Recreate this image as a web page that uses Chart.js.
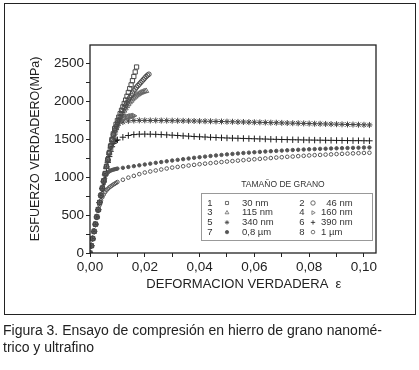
<!DOCTYPE html>
<html>
<head>
<meta charset="utf-8">
<script src="https://cdn.jsdelivr.net/npm/chart.js@4.4.1/dist/chart.umd.min.js"></script>
<style>
  body { margin: 0; background: #fff; width: 419px; height: 370px; position: relative; overflow: hidden; }
  #frame { position: absolute; left: 4px; top: 3px; width: 410px; height: 310px; border: 1.5px solid #222; pointer-events: none; }
  #chart { position: absolute; left: 0; top: 0; }
  #caption { position: absolute; left: 3px; top: 322px; font: 14px "Liberation Sans", Arial, sans-serif; line-height: 17px; color: #222; }
</style>
</head>
<body>
<canvas id="chart" width="419" height="316"></canvas>
<div id="frame"></div>
<div id="caption">Figura 3. Ensayo de compresión en hierro de grano nanomé-<br>trico y ultrafino</div>
<script>
// strain values (true strain)
const strainFine = [0, 0.0005, 0.001, 0.0015, 0.002, 0.0025, 0.003, 0.0035, 0.004, 0.0045,
  0.005, 0.0055, 0.006, 0.0065, 0.007, 0.0075, 0.008, 0.0085, 0.009, 0.0095,
  0.01, 0.0105, 0.011, 0.0115, 0.012, 0.0125, 0.013, 0.0135, 0.014, 0.0145,
  0.015, 0.0155, 0.016, 0.0165, 0.017, 0.0175, 0.018, 0.0185, 0.019, 0.0195,
  0.02, 0.0205, 0.021, 0.0215];
const strainCoarse = [0.01, 0.012, 0.014, 0.016, 0.018, 0.02, 0.022, 0.024, 0.026, 0.028,
  0.03, 0.032, 0.034, 0.036, 0.038, 0.04, 0.042, 0.044, 0.046, 0.048,
  0.05, 0.052, 0.054, 0.056, 0.058, 0.06, 0.062, 0.064, 0.066, 0.068,
  0.07, 0.072, 0.074, 0.076, 0.078, 0.08, 0.082, 0.084, 0.086, 0.088,
  0.09, 0.092, 0.094, 0.096, 0.098, 0.1, 0.102];
const strainLong = strainFine.slice(0, 20).concat(strainCoarse);

// true stress (MPa), series 1-4 on strainFine
const stress30nm = [0, 95, 190, 285, 380, 475, 570, 665, 760, 855, 950, 1045, 1140, 1230, 1320, 1410,
  1495, 1570, 1640, 1695, 1745, 1790, 1835, 1880, 1925, 1970, 2015, 2065, 2115, 2165,
  2215, 2270, 2325, 2385, 2450];
const stress46nm = [0, 95, 190, 285, 380, 475, 570, 665, 760, 855, 950, 1045, 1140, 1230, 1320, 1410,
  1490, 1560, 1620, 1670, 1715, 1755, 1795, 1835, 1875, 1910, 1945, 1980, 2015, 2045,
  2075, 2105, 2135, 2160, 2185, 2205, 2225, 2245, 2265, 2285, 2305, 2325, 2342, 2355];
const stress115nm = [0, 95, 190, 285, 380, 475, 570, 665, 760, 855, 950, 1045, 1140, 1230, 1320, 1405,
  1480, 1545, 1600, 1650, 1695, 1735, 1775, 1810, 1845, 1875, 1905, 1935, 1960, 1985,
  2005, 2025, 2045, 2060, 2075, 2088, 2100, 2110, 2118, 2125, 2130, 2135];
const stress160nm = [0, 95, 190, 285, 380, 475, 570, 665, 760, 855, 950, 1045, 1140, 1230, 1315, 1400,
  1480, 1545, 1600, 1645, 1680, 1710, 1735, 1752, 1765, 1775, 1783, 1790, 1795, 1799,
  1802, 1805, 1807];

// series 5-8 on strainLong
const stress340nm = [0, 95, 190, 285, 380, 475, 570, 665, 760, 855, 950, 1040, 1130, 1215, 1295, 1370,
  1440, 1505, 1565, 1625,
  1680, 1725, 1740, 1745, 1747, 1747, 1746, 1746, 1745, 1744,
  1743, 1742, 1741, 1740, 1739, 1737, 1736, 1735, 1733, 1732,
  1730, 1729, 1727, 1726, 1724, 1722, 1721, 1719, 1717, 1716,
  1714, 1712, 1710, 1709, 1707, 1705, 1703, 1702, 1700, 1698,
  1697, 1695, 1693, 1692, 1690, 1689, 1687];
const stress390nm = [0, 95, 190, 285, 380, 475, 570, 665, 760, 850, 940, 1030, 1115, 1195, 1270, 1340,
  1400, 1445, 1470, 1482,
  1490, 1525, 1548, 1560, 1565, 1566, 1565, 1563, 1560, 1556,
  1552, 1548, 1543, 1539, 1535, 1531, 1528, 1524, 1521, 1518,
  1515, 1513, 1511, 1509, 1507, 1505, 1503, 1501, 1499, 1497,
  1495, 1494, 1492, 1491, 1489, 1488, 1487, 1486, 1485, 1484,
  1483, 1482, 1481, 1480, 1480, 1479, 1478];
const stress08um = [0, 95, 190, 285, 380, 470, 560, 650, 740, 830, 910, 980, 1030, 1060, 1075, 1085,
  1092, 1098, 1103, 1107,
  1112, 1122, 1133, 1144, 1155, 1166, 1177, 1188, 1198, 1208,
  1218, 1227, 1236, 1245, 1254, 1262, 1270, 1278, 1285, 1292,
  1299, 1305, 1311, 1317, 1322, 1327, 1332, 1337, 1341, 1345,
  1349, 1353, 1357, 1360, 1363, 1366, 1369, 1372, 1374, 1377,
  1379, 1381, 1383, 1385, 1387, 1389, 1390];
const stress1um = [0, 95, 190, 285, 380, 470, 555, 630, 690, 735, 770, 800, 825, 845, 862, 876,
  889, 901, 912, 923,
  935, 965, 993, 1016, 1039, 1060, 1074, 1087, 1100, 1113,
  1125, 1134, 1143, 1152, 1161, 1170, 1177, 1184, 1191, 1198,
  1205, 1211, 1217, 1223, 1229, 1235, 1240, 1246, 1251, 1257,
  1262, 1267, 1271, 1276, 1280, 1285, 1289, 1292, 1296, 1299,
  1303, 1306, 1309, 1312, 1315, 1318, 1320];

const grainLabels = ["30 nm", "\u200746 nm", "115 nm", "160 nm", "340 nm", "390 nm", "0,8 \u00b5m", "1 \u00b5m"];
const yTickValues = [0, 250, 500, 750, 1000, 1250, 1500, 1750, 2000, 2250, 2500];

const FONT = "'Liberation Sans', Arial, sans-serif";

function toPoints(xs, ys) {
  return ys.map((y, i) => ({ x: xs[i], y: y }));
}

function series(label, xs, ys, style, extra) {
  return Object.assign({
    label: label,
    data: toPoints(xs, ys),
    pointStyle: style,
    pointRadius: 2.5,
    pointBorderWidth: 1,
    pointBorderColor: "#4a4a4a",
    pointBackgroundColor: "rgba(0,0,0,0)",
    showLine: false,
  }, extra || {});
}

const datasets = [
  series(grainLabels[0], strainFine, stress30nm, "rect", { pointRadius: 3 }),
  series(grainLabels[1], strainFine, stress46nm, "circle", { pointRadius: 2.3 }),
  series(grainLabels[2], strainFine, stress115nm, "triangle", { pointRadius: 3, pointBorderColor: "#666" }),
  series(grainLabels[3], strainFine, stress160nm, "triangle", { pointRadius: 3, pointRotation: 90, pointBorderColor: "#666" }),
  series(grainLabels[4], strainLong, stress340nm, "star", { pointRadius: 3, pointBorderColor: "#444" }),
  series(grainLabels[5], strainLong, stress390nm, "cross", { pointRadius: 3.2, pointBorderColor: "#1e1e1e" }),
  series(grainLabels[6], strainLong, stress08um, "circle", { pointRadius: 1.7, pointBackgroundColor: "#555", pointBorderColor: "#555" }),
  series(grainLabels[7], strainLong, stress1um, "circle", { pointRadius: 1.8, pointBorderColor: "#555" }),
];

// box around the plot and the grain-size legend
const framePlugin = {
  id: "frame",
  afterDraw(chart) {
    const ctx = chart.ctx;
    const a = chart.chartArea;
    ctx.save();
    ctx.strokeStyle = "#222";
    ctx.lineWidth = 1.3;
    ctx.strokeRect(a.left, a.top, a.right - a.left, a.bottom - a.top);

    // legend
    ctx.fillStyle = "#333";
    ctx.font = "8.5px " + FONT;
    ctx.textAlign = "center";
    ctx.textBaseline = "middle";
    ctx.fillText("TAMAÑO DE GRANO", 283, 185);

    ctx.strokeStyle = "#999";
    ctx.lineWidth = 1;
    ctx.strokeRect(201.5, 193.5, 171, 47);

    const numX = [210, 302];
    const markX = [227, 313];
    const labX = [242, 321];
    ctx.font = "9.5px " + FONT;
    chart.data.datasets.forEach((ds, i) => {
      const col = i % 2;
      const y = 203 + Math.floor(i / 2) * 9.7;
      ctx.fillStyle = "#333";
      ctx.textAlign = "center";
      ctx.fillText(String(i + 1), numX[col], y);
      ctx.textAlign = "left";
      ctx.fillText(ds.label, labX[col], y);
      ctx.strokeStyle = ds.pointBorderColor;
      ctx.fillStyle = ds.pointBackgroundColor;
      ctx.lineWidth = 0.8;
      Chart.helpers.drawPoint(ctx, {
        pointStyle: ds.pointStyle,
        radius: Math.min(ds.pointRadius, 2.2),
        rotation: ds.pointRotation || 0,
        borderWidth: 0.8,
      }, markX[col], y);
    });
    ctx.restore();
  },
};

new Chart(document.getElementById("chart"), {
  type: "scatter",
  data: { datasets: datasets },
  options: {
    responsive: false,
    animation: false,
    devicePixelRatio: 1,
    layout: { padding: { top: 45, right: 43, left: 0, bottom: 0 } },
    plugins: {
      legend: { display: false },
      tooltip: { enabled: false },
    },
    scales: {
      x: {
        type: "linear",
        min: 0,
        max: 0.1044,
        border: { display: false },
        grid: { drawOnChartArea: false, drawTicks: true, tickLength: 4, color: "#222", lineWidth: 1 },
        ticks: {
          stepSize: 0.01,
          maxTicksLimit: 20,
          includeBounds: false,
          autoSkip: false,
          maxRotation: 0,
          padding: 2,
          color: "#222",
          font: { family: FONT, size: 13.5 },
          callback: (v) => (Math.round(v * 1000) % 20 === 0 ? v.toFixed(2).replace(".", ",") : ""),
        },
        title: {
          display: true,
          text: "      DEFORMACION VERDADERA  \u03b5",
          color: "#222",
          font: { family: FONT, size: 13 },
          padding: { top: 0, bottom: 24 },
        },
        afterFit: (scale) => { scale.height = 63; },
      },
      y: {
        type: "linear",
        min: 0,
        max: 2740,
        border: { display: false },
        grid: { drawOnChartArea: false, drawTicks: true, tickLength: 4, color: "#222", lineWidth: 1 },
        afterBuildTicks: (scale) => { scale.ticks = yTickValues.map((v) => ({ value: v })); },
        ticks: {
          autoSkip: false,
          padding: 2,
          color: "#222",
          font: { family: FONT, size: 13.5 },
          callback: (v) => (v % 500 === 0 ? String(v) : ""),
        },
        title: {
          display: true,
          text: "ESFUERZO VERDADERO(MPa)",
          color: "#222",
          font: { family: FONT, size: 12.5 },
          padding: { top: 28, bottom: 0 },
        },
        afterFit: (scale) => { scale.width = 90; },
      },
    },
  },
  plugins: [framePlugin],
});
</script>
</body>
</html>
